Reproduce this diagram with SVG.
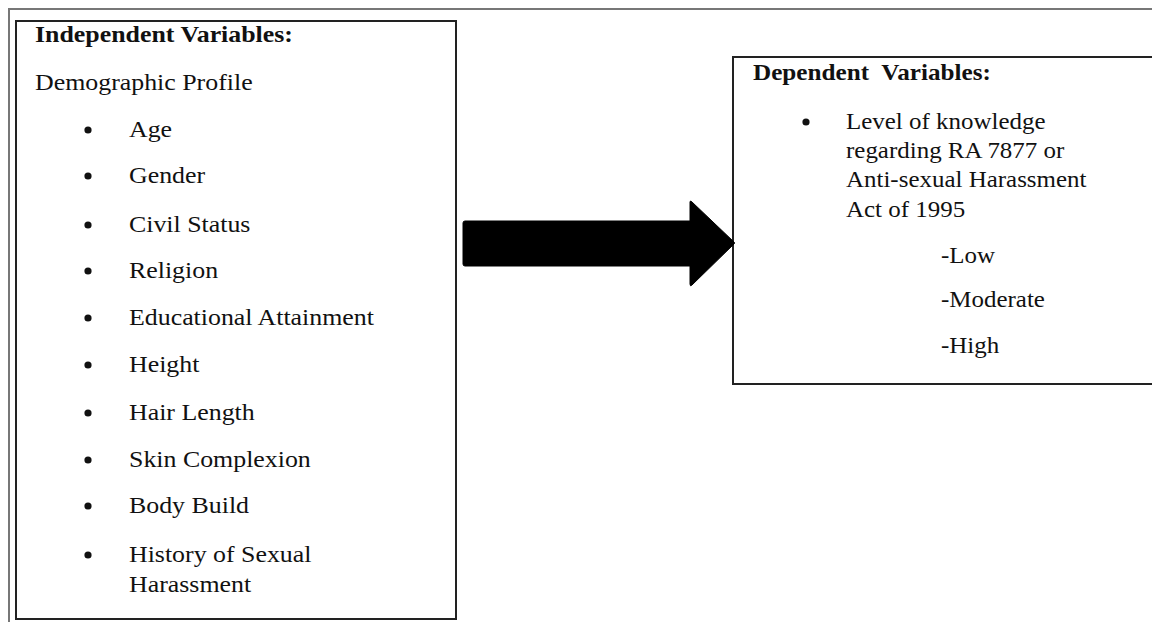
<svg xmlns="http://www.w3.org/2000/svg" width="1152" height="622" viewBox="0 0 1152 622">
<style>
.t{font-family:"Liberation Serif","Times New Roman",serif;fill:#111;font-size:22.5px;}
.b{font-weight:bold;}
.box{fill:#fff;stroke:#222;stroke-width:2;}
.frame{fill:none;stroke:#777;stroke-width:2;}
.dot{fill:#111;}
</style>
<rect x="0" y="0" width="1152" height="622" fill="#fff"/>
<g id="frame">
<path class="frame" d="M9,622 V9 H1152"/>
</g>
<g id="independent">
<rect class="box" x="16" y="21" width="440" height="598"/>
<g transform="translate(35,0) scale(1.15,1)">
<text class="t b" x="0" y="42">Independent Variables:</text>
<text class="t" x="0" y="90">Demographic Profile</text>
</g>
<circle class="dot" cx="88" cy="130" r="3.6"/>
<circle class="dot" cx="88" cy="176" r="3.6"/>
<circle class="dot" cx="88" cy="225" r="3.6"/>
<circle class="dot" cx="88" cy="271" r="3.6"/>
<circle class="dot" cx="88" cy="318" r="3.6"/>
<circle class="dot" cx="88" cy="365" r="3.6"/>
<circle class="dot" cx="88" cy="413" r="3.6"/>
<circle class="dot" cx="88" cy="460" r="3.6"/>
<circle class="dot" cx="88" cy="506" r="3.6"/>
<circle class="dot" cx="88" cy="555" r="3.6"/>
<g transform="translate(129,0) scale(1.15,1)">
<text class="t" x="0" y="137">Age</text>
<text class="t" x="0" y="183">Gender</text>
<text class="t" x="0" y="232">Civil Status</text>
<text class="t" x="0" y="278">Religion</text>
<text class="t" x="0" y="325">Educational Attainment</text>
<text class="t" x="0" y="372">Height</text>
<text class="t" x="0" y="420">Hair Length</text>
<text class="t" x="0" y="467">Skin Complexion</text>
<text class="t" x="0" y="513">Body Build</text>
<text class="t" x="0" y="562">History of Sexual</text>
<text class="t" x="0" y="592">Harassment</text>
</g>
</g>
<g id="dependent">
<rect class="box" x="733" y="57" width="430" height="327"/>
<g transform="translate(753,0) scale(1.12,1)">
<text class="t b" x="0" y="80" xml:space="preserve">Dependent  Variables:</text>
</g>
<circle class="dot" cx="806" cy="122" r="3.6"/>
<g transform="translate(846,0) scale(1.11,1)">
<text class="t" x="0" y="129">Level of knowledge</text>
<text class="t" x="0" y="158">regarding RA 7877 or</text>
<text class="t" x="0" y="187">Anti-sexual Harassment</text>
<text class="t" x="0" y="217">Act of 1995</text>
</g>
<g transform="translate(941,0) scale(1.11,1)">
<text class="t" x="0" y="263">-Low</text>
<text class="t" x="0" y="307">-Moderate</text>
<text class="t" x="0" y="353">-High</text>
</g>
</g>
<g id="connectors">
<path d="M465,221 H690 V202 Q690,200 692,202 L734,242 Q735,243 734,244 L692,285 Q690,287 690,284 V266 H465 Q463,266 463,264 V223 Q463,221 465,221 Z" fill="#000" stroke="#000" stroke-width="1" stroke-linejoin="round"/>
</g>
</svg>
